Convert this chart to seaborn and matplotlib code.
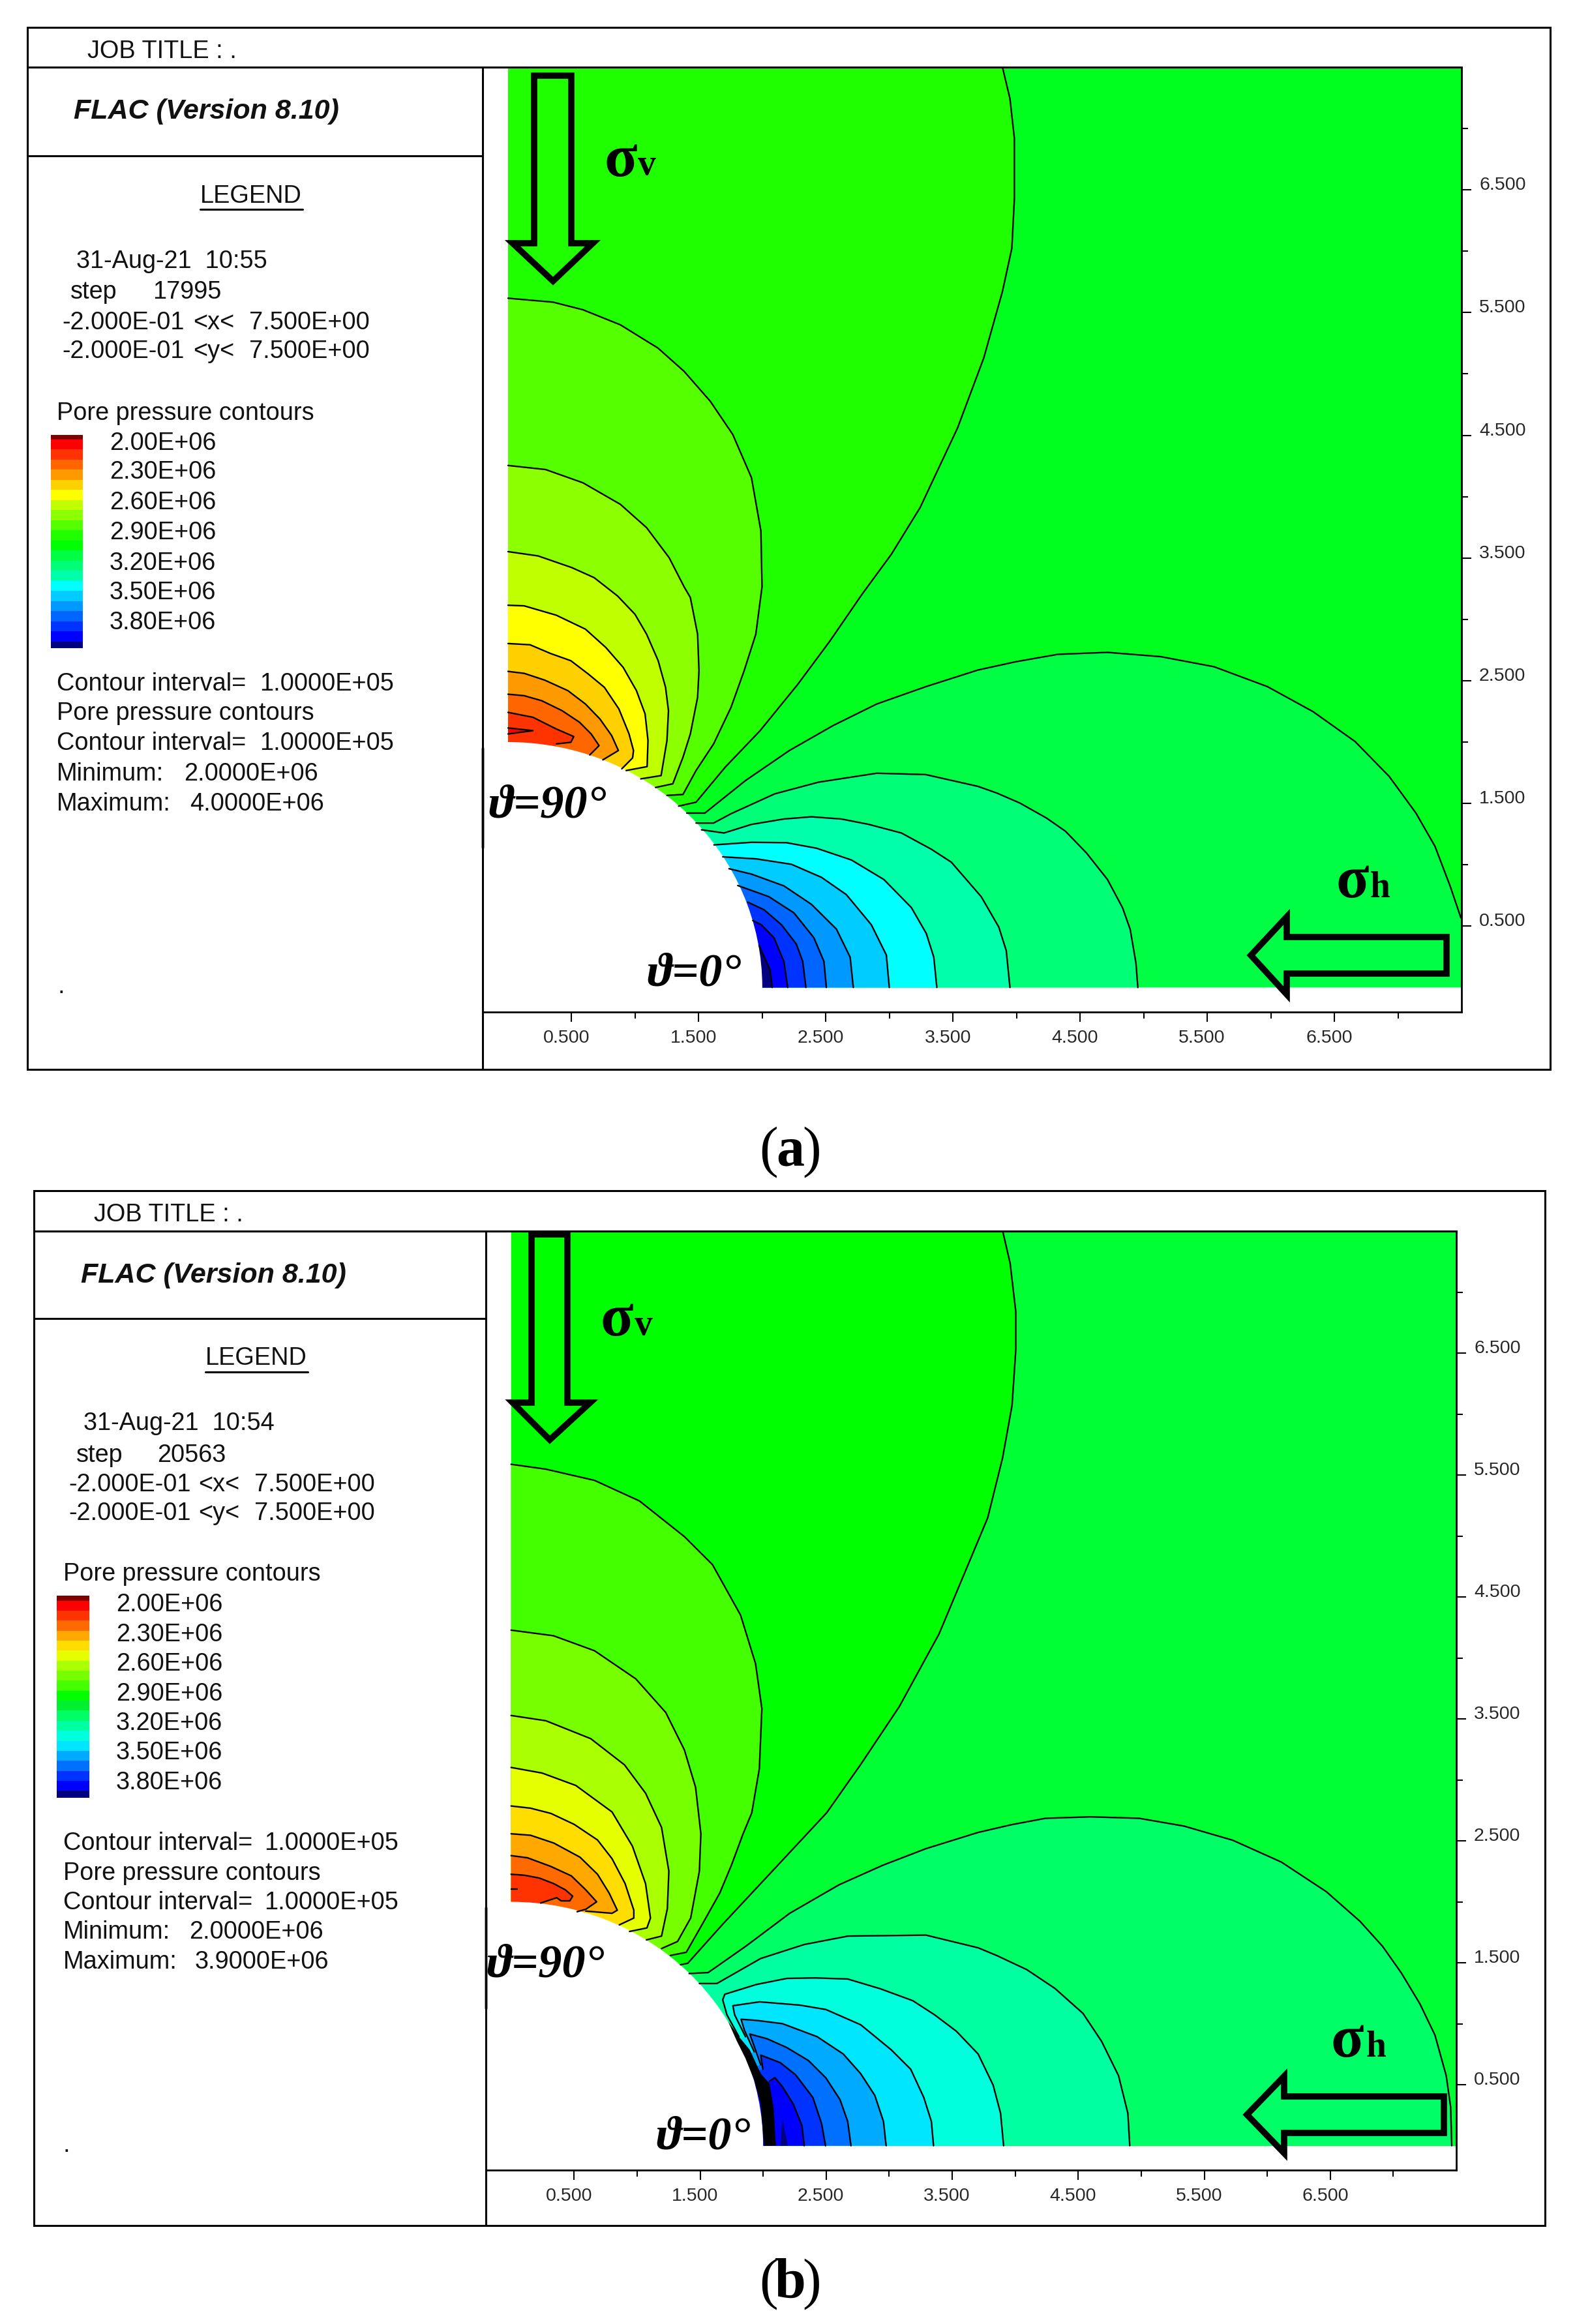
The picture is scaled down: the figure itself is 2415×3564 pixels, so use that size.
import matplotlib
matplotlib.use("Agg")
import matplotlib.pyplot as plt
import numpy as np
import seaborn as sns
from matplotlib.colors import ListedColormap
from matplotlib.patches import Circle, Polygon
from matplotlib.ticker import FixedLocator
from matplotlib.transforms import ScaledTranslation

WIDTH, HEIGHT = 2415, 3564
SERIF = ["Liberation Serif", "DejaVu Serif"]

X_MAJOR = [0.5, 1.5, 2.5, 3.5, 4.5, 5.5, 6.5]
X_MINOR = [1, 2, 3, 4, 5, 6, 7]
TICK_TEXT = ["0.500", "1.500", "2.500", "3.500", "4.500", "5.500", "6.500"]
LEGEND_TEXT = ["2.00E+06", "2.30E+06", "2.60E+06", "2.90E+06", "3.20E+06", "3.50E+06", "3.80E+06"]

# panel (a): contour lines, in model units
A_FINGER = [(0, 2.115), (0.196, 2.093), (0, 2.066)]
A_UP0 = [(0, 2.242), (0.196, 2.202), (0.379, 2.107), (0.517, 2.045), (0.494, 1.998), (0.379, 1.985)]
A_UP1 = [(0, 2.39), (0.127, 2.378), (0.265, 2.337), (0.425, 2.256), (0.563, 2.161), (0.654, 2.066),
         (0.716, 1.971), (0.643, 1.895)]
A_UP2 = [(0, 2.576), (0.127, 2.56), (0.288, 2.505), (0.471, 2.419), (0.609, 2.31), (0.723, 2.188),
         (0.815, 2.053), (0.868, 1.931), (0.746, 1.855)]
A_UP3 = [(0, 2.803), (0.173, 2.793), (0.334, 2.722), (0.494, 2.663), (0.632, 2.554), (0.758, 2.446),
         (0.872, 2.27), (0.952, 2.066), (0.987, 1.931), (0.98, 1.871), (0.895, 1.782)]
A_UP4 = [(0, 3.115), (0.127, 3.11), (0.379, 3.034), (0.609, 2.92), (0.769, 2.771), (0.906, 2.608),
         (1.01, 2.419), (1.078, 2.229), (1.101, 2.012), (1.094, 1.8), (0.929, 1.768)]
A_UP5 = [(0, 3.552), (0.236, 3.517), (0.501, 3.422), (0.677, 3.34), (0.861, 3.191), (0.998, 3.042),
         (1.09, 2.879), (1.181, 2.663), (1.239, 2.446), (1.262, 2.256), (1.25, 2.012), (1.204, 1.727),
         (1.044, 1.7)]
A_UP6 = [(0, 4.254), (0.295, 4.221), (0.589, 4.113), (0.884, 3.937), (1.09, 3.747), (1.267, 3.503),
         (1.385, 3.265), (1.434, 3.178), (1.491, 2.879), (1.502, 2.581), (1.491, 2.364), (1.434, 2.066),
         (1.376, 1.876), (1.296, 1.66), (1.16, 1.63)]
A_UP7 = [(0, 5.617), (0.354, 5.585), (0.589, 5.523), (0.884, 5.4), (1.179, 5.211), (1.385, 5.021),
         (1.591, 4.777), (1.768, 4.506), (1.915, 4.154), (1.989, 3.72), (1.998, 3.265), (1.949, 2.879),
         (1.857, 2.581), (1.754, 2.283), (1.617, 1.985), (1.479, 1.768), (1.376, 1.573), (1.25, 1.565)]
A_UP8 = [(3.889, 7.5), (3.948, 7.244), (3.983, 6.919), (3.983, 6.431), (3.963, 6.024), (3.889, 5.672),
         (3.742, 5.13), (3.536, 4.56), (3.241, 3.91), (3.015, 3.53), (2.785, 3.205), (2.533, 2.825),
         (2.281, 2.473), (1.983, 2.093), (1.708, 1.795), (1.479, 1.51), (1.342, 1.478)]
A_LOW9 = [(7.495, 0.568), (7.411, 0.825), (7.291, 1.151), (7.141, 1.422), (6.931, 1.72), (6.662, 2.005),
          (6.332, 2.248), (5.973, 2.452), (5.553, 2.614), (5.134, 2.696), (4.715, 2.731), (4.325, 2.715),
          (3.996, 2.655), (3.696, 2.587), (3.285, 2.451), (2.9, 2.31), (2.556, 2.134), (2.213, 1.931),
          (1.869, 1.687), (1.548, 1.421), (1.406, 1.421)]
A_LOW10 = [(4.954, 0), (4.939, 0.2), (4.894, 0.473), (4.834, 0.649), (4.715, 0.88), (4.55, 1.096),
           (4.385, 1.273), (4.235, 1.381), (4.026, 1.503), (3.846, 1.584), (3.696, 1.639), (3.285, 1.735),
           (2.9, 1.746), (2.442, 1.673), (2.098, 1.578), (1.754, 1.416), (1.617, 1.34), (1.479, 1.34)]
A_LOW11 = [(3.948, 0), (3.919, 0.3), (3.86, 0.493), (3.722, 0.74), (3.487, 1.021), (3.329, 1.127),
           (3.094, 1.259), (2.838, 1.329), (2.622, 1.373), (2.386, 1.391), (2.17, 1.373), (1.915, 1.329),
           (1.699, 1.259), (1.522, 1.285)]
A_LOW12 = [(3.373, 0), (3.349, 0.247), (3.29, 0.44), (3.172, 0.652), (2.956, 0.88), (2.701, 1.039),
           (2.426, 1.135), (2.19, 1.18), (1.915, 1.183), (1.62, 1.162)]
A_LOW13 = [(2.999, 0), (2.976, 0.264), (2.858, 0.511), (2.661, 0.757), (2.465, 0.898), (2.229, 1.004),
           (1.954, 1.048), (1.689, 1.065)]
A_LOW14 = [(2.716, 0), (2.691, 0.247), (2.583, 0.476), (2.386, 0.678), (2.17, 0.828), (1.915, 0.924),
           (1.738, 0.968)]
A_LOW15 = [(2.504, 0), (2.485, 0.212), (2.406, 0.405), (2.249, 0.608), (2.052, 0.74), (1.807, 0.831)]
A_LOW16 = [(2.343, 0), (2.318, 0.212), (2.268, 0.353), (2.151, 0.511), (2.013, 0.634), (1.885, 0.696)]
A_LOW17 = [(2.2, 0), (2.17, 0.212), (2.092, 0.405), (1.993, 0.511), (1.925, 0.546)]
A_LOW18 = [(2.078, 0), (2.062, 0.141), (1.974, 0.344)]

A_UP_LINES = [A_UP8, A_UP7, A_UP6, A_UP5, A_UP4, A_UP3, A_UP2, A_UP1, A_UP0]
A_UP_COLORS = ["#20ff00", "#55ff00", "#8cff00", "#c0ff00", "#ffff00", "#ffd000", "#ff9900", "#ff6600", "#ff3300"]
A_LOW_LINES = [A_LOW9, A_LOW10, A_LOW11, A_LOW12, A_LOW13, A_LOW14, A_LOW15, A_LOW16, A_LOW17, A_LOW18]
A_LOW_COLORS = ["#00ff44", "#00ff77", "#00ffaa", "#00ffff", "#00ccff", "#0099ff", "#0066ff", "#0033ff",
                "#0000ff", "#000080"]
A_BASE = "#00ff1e"
A_BAR_LEVELS = [1.957, 2.0, 2.1, 2.2, 2.3, 2.4, 2.5, 2.6, 2.7, 2.8, 2.9, 3.0, 3.1, 3.2, 3.3, 3.4, 3.5, 3.6,
                3.7, 3.8, 3.9, 4.0, 4.066]
A_BAR_COLORS = ["#800000", "#ff0000", "#ff3300", "#ff6600", "#ff9900", "#ffd000", "#ffff00", "#c0ff00",
                "#8cff00", "#55ff00", "#20ff00", "#00ff00", "#00ff44", "#00ff77", "#00ffaa", "#00ffff",
                "#00ccff", "#0099ff", "#0066ff", "#0033ff", "#0000ff", "#000080"]

# panel (b)
B_FINGER = [(0, 2.103), (0.046, 2.103)]
B_UP0 = [(0, 2.226), (0.108, 2.218), (0.224, 2.195), (0.339, 2.149), (0.431, 2.098), (0.489, 2.046),
         (0.466, 2.008), (0.397, 2.008), (0.362, 2.034), (0.235, 1.99)]
B_UP1 = [(0, 2.379), (0.131, 2.361), (0.316, 2.29), (0.478, 2.213), (0.593, 2.098), (0.679, 2.0),
         (0.593, 1.939), (0.524, 1.919)]
B_UP2 = [(0, 2.558), (0.154, 2.546), (0.339, 2.482), (0.547, 2.366), (0.686, 2.226), (0.778, 2.072),
         (0.843, 1.931), (0.801, 1.906), (0.593, 1.924)]
B_UP3 = [(0, 2.786), (0.154, 2.768), (0.316, 2.725), (0.501, 2.635), (0.686, 2.507), (0.801, 2.354),
         (0.905, 2.149), (0.974, 1.931), (0.974, 1.867), (0.859, 1.811)]
B_UP4 = [(0, 3.102), (0.246, 3.056), (0.514, 2.954), (0.801, 2.737), (0.963, 2.456), (1.067, 2.149),
         (1.106, 1.867), (1.078, 1.786), (0.94, 1.757)]
B_UP5 = [(0, 3.528), (0.276, 3.485), (0.632, 3.338), (0.9, 3.123), (1.067, 2.891), (1.194, 2.61),
         (1.252, 2.251), (1.24, 1.944), (1.194, 1.719), (1.074, 1.688)]
B_UP6 = [(0, 4.228), (0.336, 4.182), (0.662, 4.059), (0.989, 3.829), (1.227, 3.553), (1.375, 3.246),
         (1.464, 2.939), (1.506, 2.558), (1.494, 2.251), (1.425, 1.867), (1.321, 1.675), (1.194, 1.617)]
B_UP7 = [(0, 5.588), (0.276, 5.548), (0.662, 5.456), (1.019, 5.287), (1.375, 4.995), (1.598, 4.765),
         (1.821, 4.351), (1.94, 3.952), (1.99, 3.584), (1.97, 3.092), (1.91, 2.73), (1.841, 2.558),
         (1.749, 2.302), (1.656, 2.072), (1.517, 1.816), (1.39, 1.586), (1.263, 1.56)]
B_UP8 = [(3.901, 7.5), (3.96, 7.236), (4.005, 6.837), (4.005, 6.53), (3.975, 6.07), (3.9, 5.64),
         (3.782, 5.149), (3.633, 4.781), (3.396, 4.197), (3.08, 3.6), (2.772, 3.123), (2.504, 2.73),
         (2.303, 2.507), (1.98, 2.149), (1.679, 1.816), (1.402, 1.496), (1.344, 1.484)]
B_LOW9 = [(7.464, 0), (7.455, 0.318), (7.42, 0.574), (7.331, 0.906), (7.212, 1.162), (7.063, 1.418),
          (6.915, 1.635), (6.736, 1.84), (6.469, 2.083), (6.112, 2.326), (5.726, 2.505), (5.34, 2.621),
          (4.983, 2.685), (4.597, 2.697), (4.241, 2.685), (3.973, 2.633), (3.706, 2.569), (3.292, 2.436),
          (2.95, 2.3), (2.603, 2.14), (2.211, 1.906), (1.864, 1.637), (1.564, 1.42), (1.413, 1.412)]
B_LOW10 = [(4.909, 0), (4.894, 0.266), (4.82, 0.574), (4.686, 0.855), (4.538, 1.085), (4.315, 1.29),
           (4.092, 1.444), (3.855, 1.559), (3.706, 1.623), (3.292, 1.727), (2.673, 1.719), (2.326, 1.65),
           (1.98, 1.535), (1.633, 1.33), (1.494, 1.33)]
B_LOW11 = [(3.908, 0), (3.884, 0.266), (3.825, 0.497), (3.706, 0.752), (3.533, 0.939), (3.361, 1.073),
           (3.188, 1.189), (2.93, 1.287), (2.671, 1.367), (2.412, 1.376), (2.188, 1.372), (1.946, 1.322),
           (1.696, 1.242), (1.679, 1.197), (1.713, 1.073), (1.808, 0.894)]
B_LOW12 = [(3.352, 0), (3.335, 0.199), (3.275, 0.395), (3.171, 0.627), (3.016, 0.787), (2.774, 0.992),
           (2.498, 1.117), (2.291, 1.153), (1.972, 1.18), (1.76, 1.148), (1.774, 1.073), (1.86, 0.894)]
B_LOW13 = [(2.976, 0), (2.955, 0.199), (2.886, 0.413), (2.774, 0.591), (2.636, 0.752), (2.429, 0.894),
           (2.153, 1.001), (1.946, 1.028), (1.825, 1.037), (1.851, 0.948), (1.929, 0.77)]
B_LOW14 = [(2.697, 0), (2.671, 0.199), (2.61, 0.378), (2.498, 0.556), (2.36, 0.698), (2.188, 0.805),
           (2.032, 0.877), (1.894, 0.916), (1.92, 0.841), (1.981, 0.663)]
B_LOW15 = [(2.495, 0), (2.464, 0.181), (2.395, 0.395), (2.257, 0.582), (2.136, 0.681), (1.981, 0.743),
           (1.998, 0.627)]
B_LOW16 = [(2.326, 0), (2.308, 0.164), (2.239, 0.342), (2.153, 0.484), (2.093, 0.559), (2.05, 0.529)]
B_SPIKE = [(2.136, 0), (2.153, 0.226), (2.196, 0)]
B_BAND = [(1.722, 1.019), (1.808, 0.894), (1.894, 0.787), (1.981, 0.591), (2.05, 0.511), (2.084, 0.306),
          (2.101, 0), (2.007, 0), (1.981, 0.342), (1.929, 0.538), (1.86, 0.716), (1.791, 0.859)]

B_UP_LINES = [B_UP8, B_UP7, B_UP6, B_UP5, B_UP4, B_UP3, B_UP2, B_UP1, B_UP0]
B_UP_COLORS = ["#00ff00", "#44ff00", "#77ff00", "#aaff00", "#e5ff00", "#ffdd00", "#ffa800", "#ff6a00", "#ff3300"]
B_LOW_LINES = [B_LOW9, B_LOW10, B_LOW11, B_LOW12, B_LOW13, B_LOW14, B_LOW15, B_LOW16]
B_LOW_COLORS = ["#00ff66", "#00ffa0", "#00ffdd", "#00e6ff", "#00aaff", "#0070ff", "#0033ff", "#0000ff"]
B_BASE = "#00ff33"
B_BAR_LEVELS = [1.95, 2.0, 2.1, 2.2, 2.3, 2.4, 2.5, 2.6, 2.7, 2.8, 2.9, 3.0, 3.1, 3.2, 3.3, 3.4, 3.5, 3.6,
                3.7, 3.8, 3.9, 3.97]
B_BAR_COLORS = ["#800000", "#ff0000", "#ff3300", "#ff6a00", "#ffa800", "#ffdd00", "#e5ff00", "#aaff00",
                "#77ff00", "#44ff00", "#00ff00", "#00f030", "#00ff66", "#00ffa0", "#00ffdd", "#00e6ff",
                "#00aaff", "#0070ff", "#0033ff", "#0000ff", "#000080"]


def pixel_axes(fig, left, top, right, bottom):
    return fig.add_axes([left / WIDTH, 1 - bottom / HEIGHT, (right - left) / WIDTH, (bottom - top) / HEIGHT])


def split(line):
    return [p[0] for p in line], [p[1] for p in line]


def draw_line(ax, line):
    xs, ys = split(line)
    sns.lineplot(x=xs, y=ys, sort=False, estimator=None, color="black", linewidth=1.7, ax=ax, legend=False, zorder=4)


def draw_field(ax, base, up_lines, up_colors, low_lines, low_colors):
    ax.fill([0, 7.5, 7.5, 0], [0, 0, 7.5, 7.5], color=base, lw=0, zorder=1)
    for line, color in zip(up_lines, up_colors):
        xs, ys = split(line)
        ax.fill(xs + [0, 0], ys + [0, ys[0]], color=color, lw=0, zorder=1)
    for line, color in zip(low_lines, low_colors):
        xs, ys = split(line)
        ax.fill(xs + [0, xs[0]], ys + [0, 0], color=color, lw=0, zorder=1)
    ax.add_patch(Circle((0, 0), 2.0, fc="white", ec="none", zorder=2))
    for line in up_lines + low_lines:
        draw_line(ax, line)


def style_axes(fig, ax):
    ax.set_xlim(-0.2, 7.5)
    ax.set_ylim(-0.2, 7.5)
    ax.set_xlabel("")
    ax.set_ylabel("")
    ax.grid(False)
    ax.set_xticks(X_MAJOR)
    ax.set_xticklabels(TICK_TEXT)
    ax.set_yticks(X_MAJOR)
    ax.set_yticklabels(TICK_TEXT)
    ax.xaxis.set_minor_locator(FixedLocator(X_MINOR))
    ax.yaxis.set_minor_locator(FixedLocator(X_MINOR))
    ax.yaxis.tick_right()
    ax.tick_params(axis="x", which="both", bottom=True)
    ax.tick_params(axis="y", which="both", right=True, left=False)
    ax.tick_params(which="major", length=10.5, width=1.5, color="black", labelsize=20.5, pad=9)
    ax.tick_params(which="minor", length=7, width=1.5, color="black")
    for side in ax.spines.values():
        side.set_visible(True)
        side.set_color("black")
        side.set_linewidth(2)
    for lab in ax.get_xticklabels():
        lab.set_transform(lab.get_transform() + ScaledTranslation(-8 / 100, 0, fig.dpi_scale_trans))
    for lab in ax.get_yticklabels():
        lab.set_transform(lab.get_transform() + ScaledTranslation(0, 10 / 100, fig.dpi_scale_trans))


def color_bar(fig, left, top, right, bottom, levels, colors):
    ax = pixel_axes(fig, left, top, right, bottom)
    values = np.arange(len(colors)).reshape(-1, 1)
    ax.pcolormesh([0, 1], levels, values, cmap=ListedColormap(colors), shading="flat")
    ax.set_ylim(levels[-1], levels[0])
    ax.axis("off")


def frame_lines(over, left, top, right, bottom, title_y, col_x, flac_y, plot_right, axis_y):
    for xs, ys in [
        ([left, right, right, left, left], [top, top, bottom, bottom, top]),
        ([left, plot_right], [title_y, title_y]),
        ([col_x, col_x], [title_y, bottom]),
        ([left, col_x], [flac_y, flac_y]),
    ]:
        over.plot(xs, ys, color="black", lw=2.2, solid_joinstyle="miter", zorder=3)


def write(over, x, y, text, **kw):
    kw.setdefault("fontsize", 27.3)
    kw.setdefault("va", "center")
    over.text(x, y + 4, text, color="#111111", **kw)


def side_text(over, rows):
    for x, y, text in rows:
        write(over, x, y, text)


def big_label(over, x, base, text, size, style="normal", weight="bold"):
    over.text(x, base, text, family=SERIF, fontsize=size, style=style, weight=weight, color="black", va="baseline")


def arrow(over, points):
    over.add_patch(Polygon(points, closed=True, fill=False, ec="black", lw=6.9, joinstyle="miter", zorder=5))


def caption(over, left, mid, right, base, letter):
    for x, text, weight, ha in [(left, "(", "normal", "left"), (mid, letter, "bold", "center"), (right, ")", "normal", "right")]:
        over.text(x, base, text, family=SERIF, fontsize=62, weight=weight, ha=ha, va="baseline", color="black")


sns.set_style("white")
plt.rcParams["font.family"] = ["Liberation Sans", "DejaVu Sans"]

fig = plt.figure(figsize=(WIDTH / 100, HEIGHT / 100), dpi=100, facecolor="white")

ax_a = pixel_axes(fig, 740, 103, 2241, 1552)
draw_field(ax_a, A_BASE, A_UP_LINES, A_UP_COLORS, A_LOW_LINES, A_LOW_COLORS)
xs, ys = split(A_FINGER)
ax_a.fill(xs, ys, color="#ff0000", lw=0, zorder=3)
draw_line(ax_a, A_FINGER)
style_axes(fig, ax_a)

ax_b = pixel_axes(fig, 745, 1888, 2233, 3328)
draw_field(ax_b, B_BASE, B_UP_LINES, B_UP_COLORS, B_LOW_LINES, B_LOW_COLORS)
draw_line(ax_b, B_FINGER)
xs, ys = split(B_SPIKE)
ax_b.fill(xs, ys, color="#000080", lw=0, zorder=3)
xs, ys = split(B_BAND)
ax_b.fill(xs, ys, color="black", lw=0, zorder=5)
style_axes(fig, ax_b)

color_bar(fig, 77.5, 667, 127, 994, A_BAR_LEVELS, A_BAR_COLORS)
color_bar(fig, 87, 2447, 137, 2757, B_BAR_LEVELS, B_BAR_COLORS)

over = fig.add_axes([0, 0, 1, 1])
over.set_xlim(0, WIDTH)
over.set_ylim(HEIGHT, 0)
over.axis("off")
over.patch.set_alpha(0)

frame_lines(over, 42, 42, 2377, 1640, 103, 740, 239, 2241, 1552)
frame_lines(over, 52, 1826, 2369, 3413, 1888, 745, 2022, 2233, 3328)
over.plot([740, 740], [1148, 1299], color="#999999", lw=3.6, zorder=2)
over.plot([745, 745], [2926, 3079], color="#999999", lw=3.6, zorder=2)

side_text(over, [
    (134, 75, "JOB TITLE : ."),
    (117, 397, "31-Aug-21  10:55"),
    (108, 444, "step"),
    (234, 444, "17995"),
    (95, 491, "-2.000E-01"),
    (296, 491, "<x<"),
    (382, 491, "7.500E+00"),
    (95, 535, "-2.000E-01"),
    (296, 535, "<y<"),
    (382, 535, "7.500E+00"),
    (87, 630, "Pore pressure contours"),
    (87, 1045, "Contour interval="),
    (398, 1045, "1.0000E+05"),
    (87, 1090, "Pore pressure contours"),
    (87, 1136, "Contour interval="),
    (398, 1136, "1.0000E+05"),
    (87, 1183, "Minimum:"),
    (282, 1183, "2.0000E+06"),
    (87, 1229, "Maximum:"),
    (291, 1229, "4.0000E+06"),
    (88, 1509, "."),
])
for y, text in zip([676, 720, 767, 813, 860, 905, 951], LEGEND_TEXT):
    write(over, 168, y, text)
write(over, 113, 167, "FLAC (Version 8.10)", fontsize=31, weight="bold", style="italic")
write(over, 385, 297, "LEGEND", ha="center")
over.plot([307, 464], [321, 321], color="black", lw=2.2)

side_text(over, [
    (144, 1859, "JOB TITLE : ."),
    (128, 2179, "31-Aug-21  10:54"),
    (117, 2228, "step"),
    (241, 2228, "20563"),
    (105, 2273, "-2.000E-01"),
    (304, 2273, "<x<"),
    (390, 2273, "7.500E+00"),
    (105, 2317, "-2.000E-01"),
    (304, 2317, "<y<"),
    (390, 2317, "7.500E+00"),
    (97, 2410, "Pore pressure contours"),
    (97, 2823, "Contour interval="),
    (405, 2823, "1.0000E+05"),
    (97, 2869, "Pore pressure contours"),
    (97, 2914, "Contour interval="),
    (405, 2914, "1.0000E+05"),
    (97, 2959, "Minimum:"),
    (290, 2959, "2.0000E+06"),
    (97, 3005, "Maximum:"),
    (299, 3005, "3.9000E+06"),
    (97, 3286, "."),
])
for y, text in zip([2457, 2503, 2548, 2594, 2639, 2684, 2730], LEGEND_TEXT):
    write(over, 178, y, text)
write(over, 124, 1952, "FLAC (Version 8.10)", fontsize=31, weight="bold", style="italic")
write(over, 393, 2079, "LEGEND", ha="center")
over.plot([315, 472], [2104, 2104], color="black", lw=2.2)

arrow(over, [(786, 373), (819, 373), (819, 116), (876, 116), (876, 373), (909, 373), (848, 431)])
arrow(over, [(1918, 1465), (1973, 1406), (1973, 1437), (2218, 1437), (2218, 1493), (1973, 1493), (1973, 1525)])
arrow(over, [(786, 2151), (815, 2151), (815, 1893), (870, 1893), (870, 2151), (905, 2151), (843, 2208)])
arrow(over, [(1912, 3243), (1969, 3184), (1969, 3215), (2214, 3215), (2214, 3271), (1969, 3271), (1969, 3302)])

big_label(over, 926, 270, "σ", 67)
big_label(over, 978, 268, "v", 40)
big_label(over, 2048, 1376, "σ", 67)
big_label(over, 2101, 1376, "h", 40)
big_label(over, 920, 2048, "σ", 67)
big_label(over, 973, 2047, "v", 40)
big_label(over, 2041, 3154, "σ", 67)
big_label(over, 2095, 3154, "h", 40)

big_label(over, 749, 1253, "ϑ=90°", 52, style="italic")
big_label(over, 992, 1512, "ϑ=0°", 52, style="italic")
big_label(over, 746, 3031, "ϑ=90°", 52, style="italic")
big_label(over, 1006, 3295, "ϑ=0°", 52, style="italic")

caption(over, 1164, 1212, 1259, 1787, "a")
caption(over, 1164, 1212, 1259, 3523, "b")

fig.savefig("out.png", dpi=100, facecolor="white")
